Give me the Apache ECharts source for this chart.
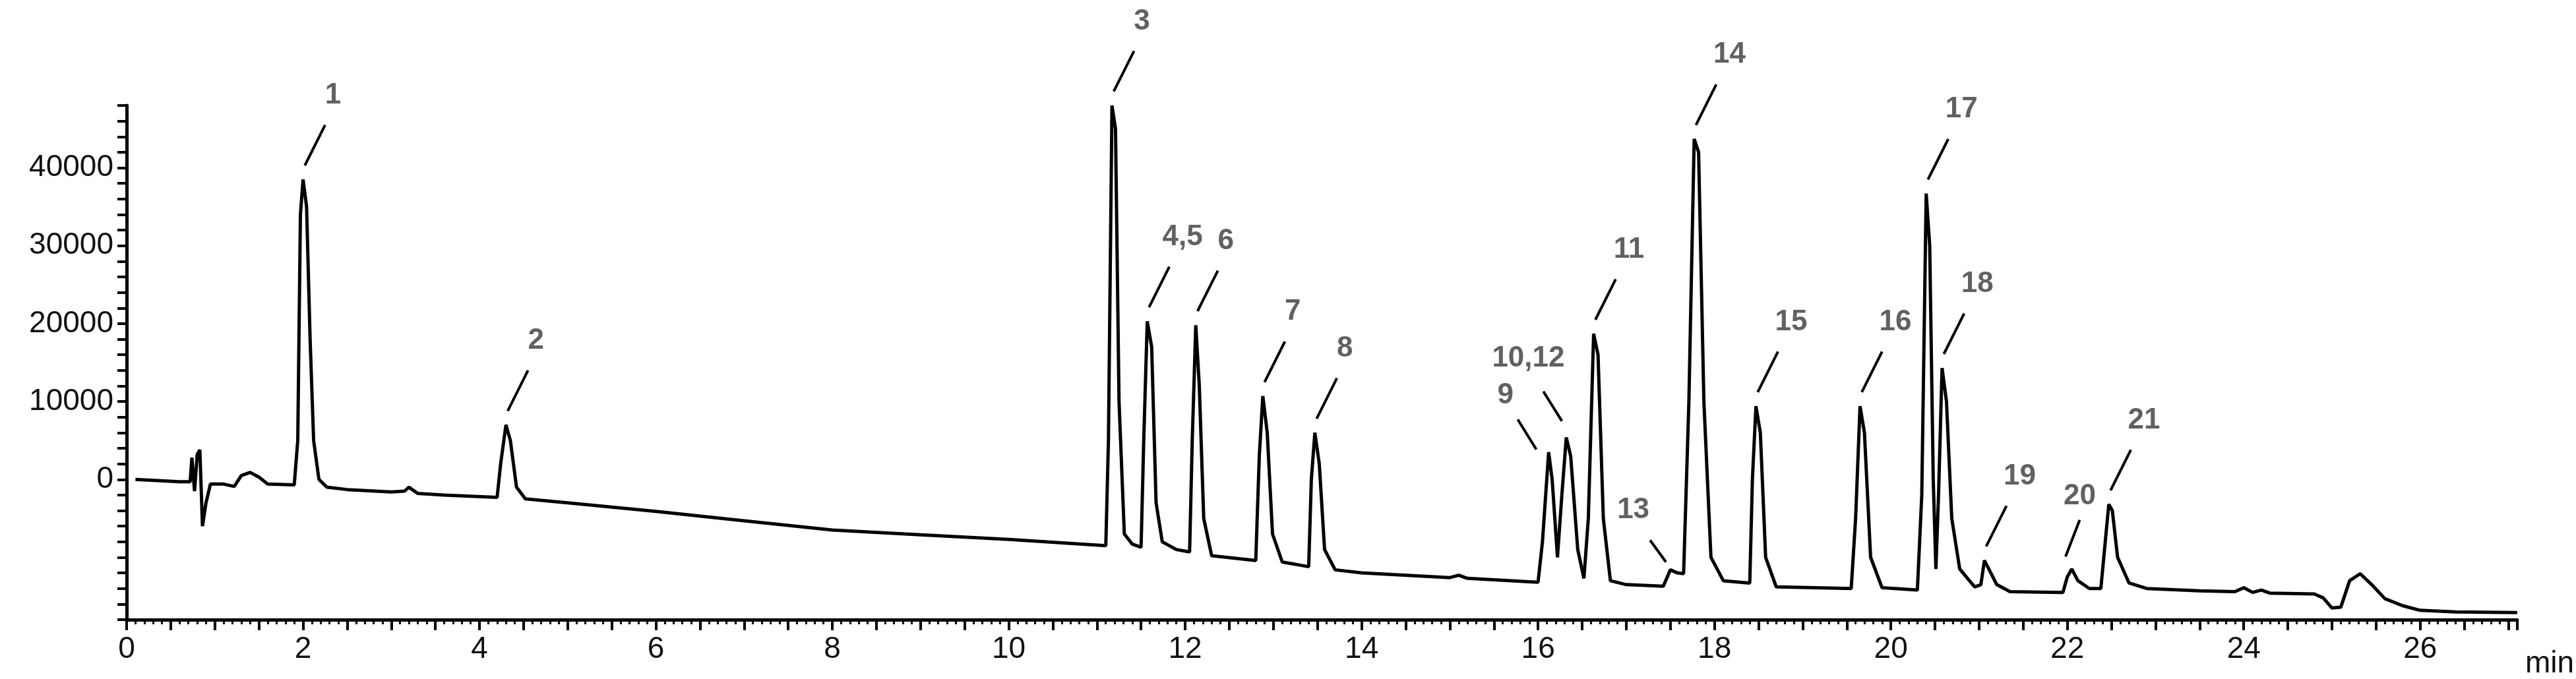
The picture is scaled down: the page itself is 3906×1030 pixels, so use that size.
<!DOCTYPE html>
<html><head><meta charset="utf-8">
<script src="https://cdn.jsdelivr.net/npm/echarts@6/dist/echarts.min.js"></script>
<style>html,body{margin:0;padding:0;background:#fff}#c{width:3906px;height:1030px}</style>
</head><body><div id="c"></div>
<script>
// chromatogram trace: [time (min), signal]
const trace = [[0.1,0],[0.6,-300],[0.72,-300],[0.74,2800],[0.77,-1500],[0.8,3200],[0.83,3800],[0.86,-6000],[0.9,-3000],[0.95,-600],[1.1,-600],[1.22,-900],[1.3,500],[1.4,900],[1.5,300],[1.6,-600],[1.9,-700],[1.94,5000],[1.97,34000],[2.0,38500],[2.04,35000],[2.08,18000],[2.12,5000],[2.18,0],[2.27,-1000],[2.5,-1300],[3.0,-1600],[3.15,-1500],[3.2,-1000],[3.3,-1800],[3.6,-2000],[4.2,-2300],[4.24,2000],[4.3,7000],[4.35,5000],[4.42,-1000],[4.52,-2500],[5,-3000],[6,-4100],[7,-5300],[8,-6500],[9,-7100],[10,-7700],[11.1,-8500],[11.13,5000],[11.17,48000],[11.21,45000],[11.25,10000],[11.31,-7000],[11.4,-8300],[11.5,-8700],[11.53,5000],[11.57,20300],[11.62,17000],[11.67,-3000],[11.74,-8000],[11.9,-9000],[12.05,-9300],[12.08,5000],[12.12,19800],[12.16,12000],[12.21,-5000],[12.3,-9800],[12.8,-10400],[12.84,3000],[12.88,10700],[12.93,6000],[12.99,-7000],[13.1,-10600],[13.4,-11200],[13.43,0],[13.47,6000],[13.52,2000],[13.58,-9000],[13.7,-11600],[14,-12000],[15,-12600],[15.1,-12300],[15.2,-12700],[16.0,-13200],[16.05,-8000],[16.12,3500],[16.16,0],[16.22,-10000],[16.27,-2000],[16.32,5400],[16.37,3000],[16.45,-9000],[16.52,-12700],[16.57,-5000],[16.63,18700],[16.68,16000],[16.74,-5000],[16.82,-13000],[17.0,-13500],[17.42,-13700],[17.5,-11600],[17.58,-12000],[17.65,-12100],[17.71,10000],[17.77,43700],[17.82,42000],[17.88,10000],[17.96,-10000],[18.1,-13000],[18.4,-13300],[18.43,0],[18.47,9400],[18.52,6000],[18.58,-10000],[18.7,-13800],[19.55,-14000],[19.6,-5000],[19.65,9400],[19.7,6000],[19.77,-10000],[19.9,-13900],[20.3,-14200],[20.35,-2000],[20.4,36700],[20.44,30000],[20.48,0],[20.51,-11500],[20.54,-2000],[20.58,14300],[20.63,10000],[20.69,-5000],[20.78,-11500],[20.95,-13800],[21.02,-13500],[21.06,-10400],[21.11,-11500],[21.2,-13500],[21.35,-14400],[21.95,-14500],[22.0,-12500],[22.05,-11500],[22.12,-13000],[22.25,-14000],[22.38,-14000],[22.43,-8000],[22.47,-3200],[22.51,-4000],[22.57,-10000],[22.7,-13300],[22.9,-14000],[23.5,-14300],[23.9,-14400],[24.0,-13900],[24.1,-14500],[24.2,-14200],[24.3,-14600],[24.8,-14700],[24.9,-15200],[25.0,-16500],[25.1,-16400],[25.2,-13000],[25.32,-12100],[25.45,-13500],[25.6,-15300],[25.8,-16200],[26.0,-16800],[26.4,-17000],[27.1,-17100]];

// peak labels
const peakNames = ['1','2','3','4,5','6','7','8','9','10,12','11','13','14','15','16','17','18','19','20','21'];
const peakTimes = [2.0,4.3,11.17,11.57,12.12,12.88,13.47,16.12,16.32,16.63,17.5,17.77,18.47,19.65,20.4,20.58,21.06,22.05,22.47];
const peakValues = [38500,7000,48000,20300,19800,10700,6000,3500,5400,18700,-11600,43700,9400,9400,36700,14300,-10400,-11500,-3200];

const yTickLabels = [0,10000,20000,30000,40000];

const special = {
  '10,12':{lx:-0.43,ly:10100,sx:-0.26,sy:5900,ex:-0.05,ey:2100},
  '9':{lx:-0.49,ly:7300,sx:-0.35,sy:4200,ex:-0.14,ey:350},
  '13':{lx:-0.42,ly:7700,sx:-0.23,sy:3800,ex:-0.05,ey:1000},
  '20':{lx:0.09,ly:9300,sx:-0.07,sy:1600,ex:0.09,ey:6300}
};
const labelPts = [], leaders = [];
peakNames.forEach((n,i)=>{
  const t = peakTimes[i], v = peakValues[i];
  const off = special[n] || {lx:0.34+(n.length>1?0.06:0), ly:10800, sx:0.02, sy:1800, ex:0.25, ey:7000};
  labelPts.push({value:[t+off.lx, v+off.ly], name:n});
  leaders.push({coords:[[t+off.sx, v+off.sy],[t+off.ex, v+off.ey]]});
});

const chart = echarts.init(document.getElementById('c'));
chart.setOption({
  animation:false,
  backgroundColor:'#fff',
  grid:{left:192, right:64, top:160, bottom:86},
  xAxis:{type:'value', min:0, max:27.1, interval:0.5,
    name:'min', nameLocation:'end', nameGap:12,
    nameTextStyle:{fontSize:46, fontFamily:'Liberation Sans', color:'#111', verticalAlign:'top', padding:[44,0,0,0]},
    axisLine:{onZero:false, lineStyle:{color:'#000', width:5}},
    axisTick:{length:16, lineStyle:{width:4,color:'#000'}},
    minorTick:{show:true, splitNumber:5, length:7, lineStyle:{width:3,color:'#000'}},
    splitLine:{show:false},
    axisLabel:{fontSize:46, fontFamily:'Liberation Sans', color:'#111', margin:22,
      formatter:v=> (Math.abs(v%2)<1e-6 && v<=26) ? String(Math.round(v)) : ''}
  },
  yAxis:{type:'value', min:-18000, max:48000, interval:2000,
    axisLine:{show:true, onZero:false, lineStyle:{color:'#000', width:5}},
    axisTick:{show:true, length:14, lineStyle:{width:4,color:'#000'}},
    splitLine:{show:false},
    axisLabel:{fontSize:46, fontFamily:'Liberation Sans', color:'#111', margin:20,
      formatter:v=> yTickLabels.includes(v) ? String(v) : ''}
  },
  series:[
    {type:'line', data:trace, showSymbol:false, symbol:'none',
     lineStyle:{color:'#000', width:5}, clip:false},
    {type:'lines', coordinateSystem:'cartesian2d', data:leaders, clip:false,
     lineStyle:{color:'#000', width:4, opacity:1}},
    {type:'scatter', data:labelPts, symbolSize:0, clip:false,
     label:{show:true, position:'inside', formatter:p=>p.name,
       fontSize:44, fontWeight:'bold', fontFamily:'Liberation Sans', color:'#3a3a3a'}}
  ]
});
</script></body></html>
